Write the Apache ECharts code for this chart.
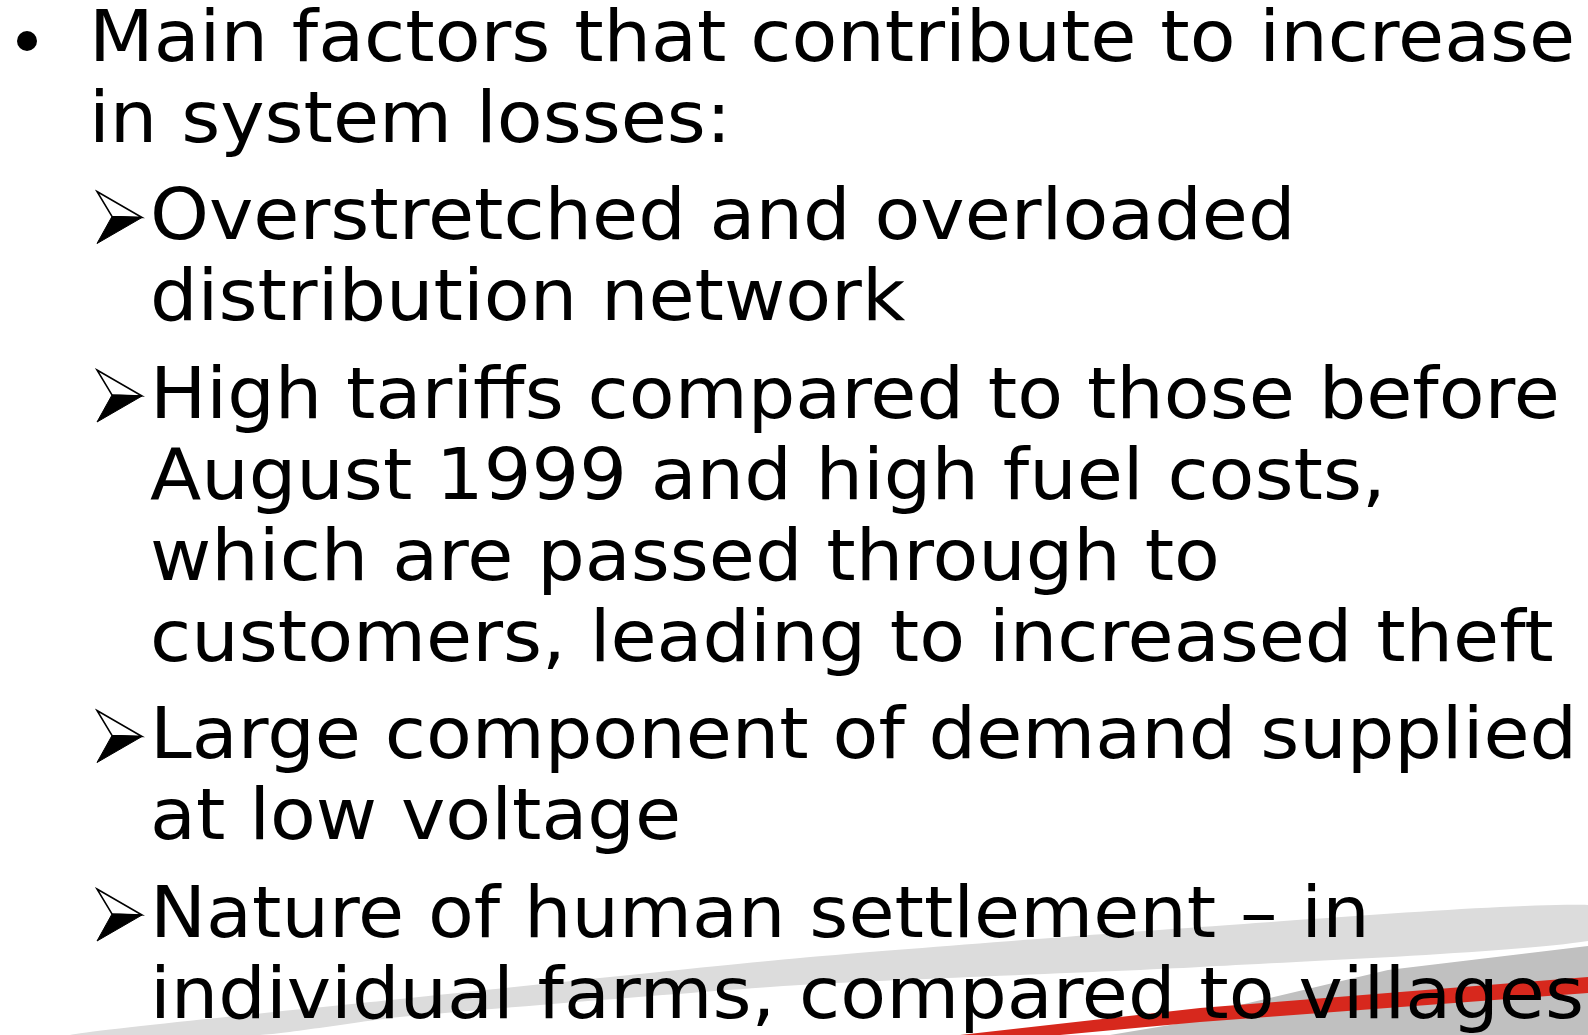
<!DOCTYPE html>
<html>
<head>
<meta charset="utf-8">
<script src="https://cdn.jsdelivr.net/npm/echarts@6/dist/echarts.min.js"></script>
<style>
  html, body { margin: 0; padding: 0; background: #fff; }
  #slide { width: 1588px; height: 1035px; }
</style>
</head>
<body>
<div id="slide"></div>
<script>
// slide text, one array per bullet
const mainPoint = ['Main factors that contribute to increase', 'in system losses:']
const subPoint1 = ['Overstretched and overloaded', 'distribution network']
const subPoint2 = ['High tariffs compared to those before', 'August 1999 and high fuel costs,', 'which are passed through to', 'customers, leading to increased theft']
const subPoint3 = ['Large component of demand supplied', 'at low voltage']
const subPoint4 = ['Nature of human settlement \u2013 in', 'individual farms, compared to villages']

const paragraphs = [
  { level: 1, lines: mainPoint },
  { level: 2, lines: subPoint1 },
  { level: 2, lines: subPoint2 },
  { level: 2, lines: subPoint3 },
  { level: 2, lines: subPoint4 }
]

const FONT = '"DejaVu Sans", Verdana, sans-serif'
const fontSize = 72
const stretch = 1.041
const firstBaseline = 63
const lineStep = 81
const paraGap = 16.5

const myChart = echarts.init(document.getElementById('slide'), null, { renderer: 'canvas' })

function arrowBullet(baseline) {
  const top = [97, baseline - 50]
  const tip = [142, baseline - 24]
  const notch = [112, baseline - 25]
  const bottom = [97, baseline + 2]
  return [
    {
      type: 'polygon',
      shape: { points: [top, tip, notch] },
      style: { fill: '#fff', stroke: '#000', lineWidth: 1.5 },
      z: 10
    },
    {
      type: 'polygon',
      shape: { points: [notch, tip, bottom] },
      style: { fill: '#000', stroke: '#000', lineWidth: 1 },
      z: 10
    }
  ]
}

const elements = []

// decorative swoosh at the bottom right
elements.push({
  type: 'polygon',
  shape: { points: [[70, 1035], [400, 999], [800, 958], [1188, 928], [1588, 905], [1588, 941], [1200, 967], [800, 985], [400, 1017], [260, 1035]], smooth: 0.2 },
  style: { fill: '#dcdcdc' },
  z: 1
})
elements.push({
  type: 'polygon',
  shape: { points: [[1110, 1035], [1200, 1020], [1240, 1005], [1388, 970], [1588, 946], [1588, 1035]] },
  style: { fill: '#c0c0c0' },
  z: 2
})
elements.push({
  type: 'polygon',
  shape: { points: [[960, 1035], [1200, 1008], [1588, 977], [1588, 993], [1200, 1022], [1060, 1035]] },
  style: { fill: '#d7281d' },
  z: 3
})

let lineIndex = 0
paragraphs.forEach((para, pIndex) => {
  para.lines.forEach((text, i) => {
    const baseline = firstBaseline + lineStep * lineIndex + paraGap * pIndex
    const x = para.level === 1 ? 89 : 150
    if (i === 0) {
      if (para.level === 1) {
        elements.push({
          type: 'circle',
          shape: { cx: 27, cy: baseline - 22, r: 10 },
          style: { fill: '#000' },
          z: 10
        })
      } else {
        elements.push(...arrowBullet(baseline))
      }
    }
    elements.push({
      type: 'text',
      x: x,
      y: baseline - 21,
      scaleX: stretch,
      style: {
        text: text,
        fontSize: fontSize,
        fontFamily: FONT,
        fill: '#000',
        align: 'left',
        verticalAlign: 'middle'
      },
      z: 10
    })
    lineIndex++
  })
})

const option = {
  backgroundColor: '#fff',
  animation: false,
  graphic: { elements: elements }
}
myChart.setOption(option)
</script>
</body>
</html>
